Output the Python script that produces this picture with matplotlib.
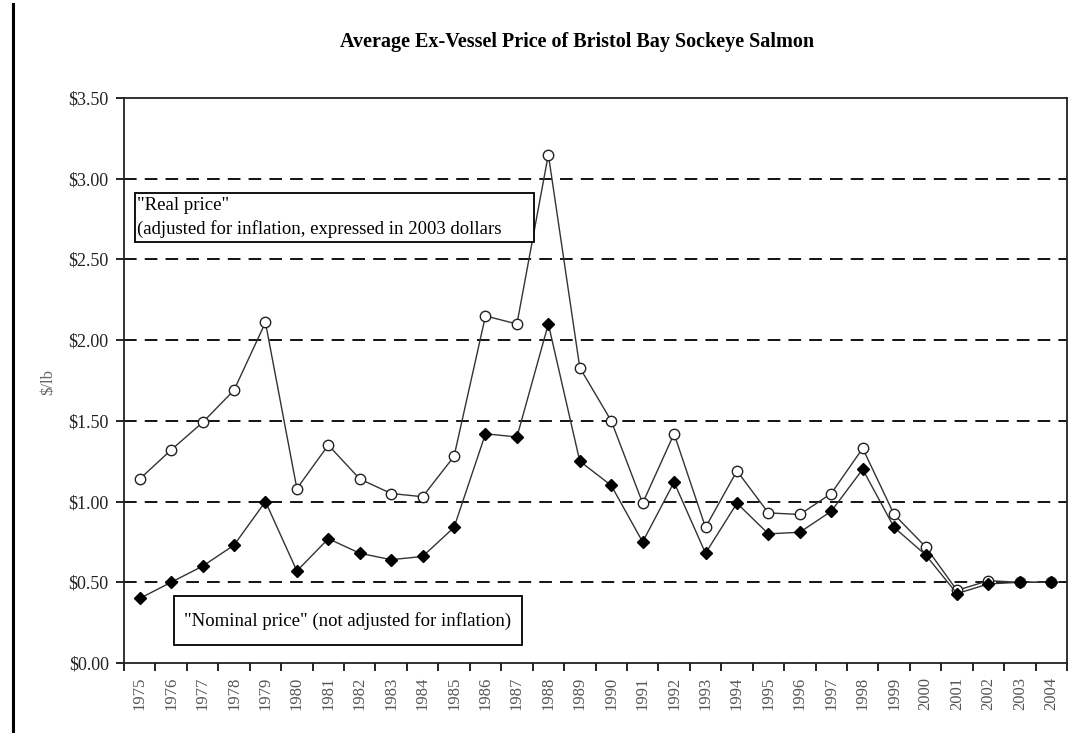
import numpy as np
import matplotlib
matplotlib.use("Agg")
import matplotlib.pyplot as plt
from matplotlib.patches import Rectangle
from matplotlib.lines import Line2D

# values ($/lb)
years = list(range(1975, 2005))
real_price = [1.14, 1.32, 1.49, 1.69, 2.11, 1.08, 1.35, 1.14, 1.05, 1.03,
              1.28, 2.15, 2.10, 3.15, 1.83, 1.50, 0.99, 1.42, 0.84, 1.19,
              0.93, 0.92, 1.05, 1.33, 0.92, 0.72, 0.45, 0.51, 0.50, 0.50]
nominal_price = [0.40, 0.50, 0.60, 0.73, 1.00, 0.57, 0.77, 0.68, 0.64, 0.66,
                 0.84, 1.42, 1.40, 2.10, 1.25, 1.10, 0.75, 1.12, 0.68, 0.99,
                 0.80, 0.81, 0.94, 1.20, 0.84, 0.67, 0.43, 0.49, 0.50, 0.50]
y_ticks = [0.0, 0.5, 1.0, 1.5, 2.0, 2.5, 3.0, 3.5]

plt.rcParams['font.family'] = ['Liberation Serif', 'DejaVu Serif']

W, H = 1071, 733
fig = plt.figure(figsize=(W / 100, H / 100), dpi=100)
# plot box in pixels: left 124, right 1067, top 98, bottom 663
ax = fig.add_axes([124 / W, (H - 663) / H, (1067 - 124) / W, (663 - 98) / H])

x = np.arange(len(years))

# dashed gridlines
for v in y_ticks[1:-1]:
    ax.axhline(v, color='black', lw=1.3, ls=(0, (7, 4.5)), zorder=1)

ax.plot(x, real_price, color='#333333', lw=1.0, marker='o', ms=7.5,
        mfc='white', mec='#222222', mew=1.0, zorder=3)
ax.plot(x, nominal_price, color='#333333', lw=1.0, marker='D', ms=6.5,
        mfc='black', mec='black', zorder=4)

ax.set_xlim(-0.5, len(years) - 0.5)
ax.set_ylim(0, 3.5)

ax.set_yticks(y_ticks)
ax.set_yticklabels(['$%.2f' % v for v in y_ticks], fontsize=13, color='#222222')
ax.tick_params(axis='y', direction='out', length=6, width=1.2, pad=5)

# ticks between categories, labels at the centres
ax.set_xticks(np.arange(len(years) + 1) - 0.5)
ax.set_xticklabels([])
ax.set_xticks(x, minor=True)
ax.set_xticklabels([str(y) for y in years], minor=True, rotation=90,
                   fontsize=12, color='#555555')
ax.tick_params(axis='x', which='major', direction='out', length=6, width=1.2)
ax.tick_params(axis='x', which='minor', length=0, pad=10)

for s in ax.spines.values():
    s.set_linewidth(1.3)
    s.set_color('#222222')

fig.text(48 / W, 1 - 382 / H, '$/lb', rotation=90, ha='center', va='center',
         fontsize=12, color='#666666')

fig.text(577 / W, 1 - 42 / H, 'Average Ex-Vessel Price of Bristol Bay Sockeye Salmon',
         ha='center', va='center', fontsize=14.5, fontweight='bold')

# annotation boxes (axes fraction)
def px2ax(px, py):
    return (px - 124) / 943, (663 - py) / 565

x0, y0 = px2ax(135, 242)
x1, y1 = px2ax(534, 193)
ax.add_patch(Rectangle((x0, y0), x1 - x0, y1 - y0, transform=ax.transAxes,
                       fill=True, fc='white', ec='black', lw=1.3, zorder=5))
tx, ty = px2ax(137, 205)
ax.text(tx, ty, '"Real price"', transform=ax.transAxes, ha='left', va='center',
        fontsize=13.5, zorder=6)
tx, ty = px2ax(137, 229)
ax.text(tx, ty, '(adjusted for inflation, expressed in 2003 dollars',
        transform=ax.transAxes, ha='left', va='center', fontsize=13.5, zorder=6)

x0, y0 = px2ax(174, 645)
x1, y1 = px2ax(522, 596)
ax.add_patch(Rectangle((x0, y0), x1 - x0, y1 - y0, transform=ax.transAxes,
                       fill=True, fc='white', ec='black', lw=1.3, zorder=5))
tx, ty = px2ax(184, 621)
ax.text(tx, ty, '"Nominal price" (not adjusted for inflation)',
        transform=ax.transAxes, ha='left', va='center', fontsize=13.5, zorder=6)

# thick rule down the left edge of the page
fig.add_artist(Line2D([13 / W, 13 / W], [0, 1 - 4 / H], color='black', lw=2.2))

fig.savefig('out.png', dpi=100)
